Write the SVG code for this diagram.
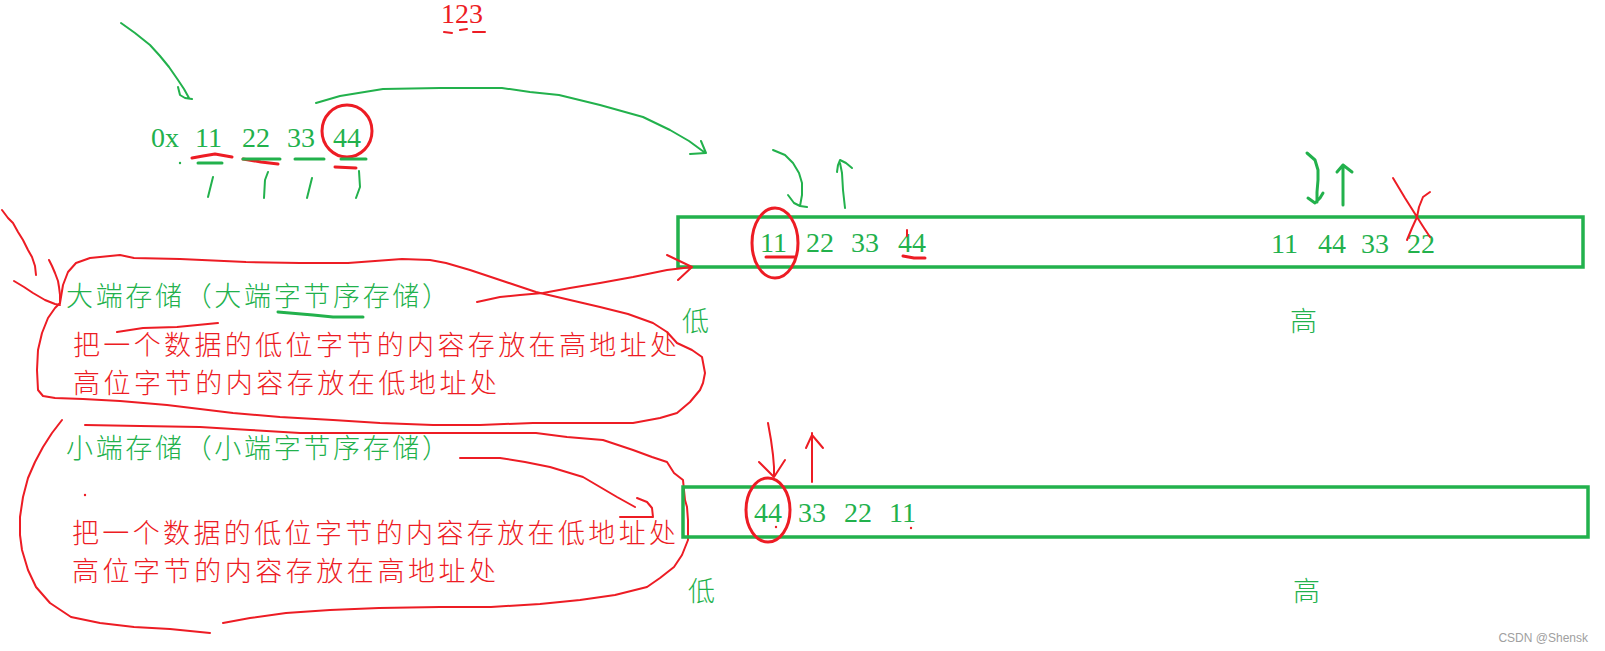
<svg xmlns="http://www.w3.org/2000/svg" width="1605" height="651" viewBox="0 0 1605 651">
<style>
.r{fill:none;stroke:#ed1c24;stroke-width:2;stroke-linecap:round;stroke-linejoin:round}
.rt{fill:none;stroke:#ed1c24;stroke-width:3;stroke-linecap:round;stroke-linejoin:round}
.g{fill:none;stroke:#22b14c;stroke-width:2;stroke-linecap:round;stroke-linejoin:round}
.gt{fill:none;stroke:#22b14c;stroke-width:3;stroke-linecap:round;stroke-linejoin:round}
.box{fill:none;stroke:#22b14c;stroke-width:3.5}
.num{font-family:"Liberation Serif","DejaVu Serif",serif;font-size:28px}
.cn{font-family:"Noto Sans CJK SC","Noto Sans",sans-serif;font-size:27px;font-weight:300}
.gf{fill:#22b14c}
.rf{fill:#ed1c24}
</style>
<rect width="1605" height="651" fill="#ffffff"/>

<g id="top-number">
<text class="num rf" x="441" y="23">123</text>
<path class="r" d="M444,32 L452,33 M460,30 L467,29 M473,32 L485,32"/>
<text class="num gf" x="151" y="147">0x</text>
<text class="num gf" x="195" y="147">11</text>
<text class="num gf" x="242" y="147">22</text>
<text class="num gf" x="287" y="147">33</text>
<text class="num gf" x="333" y="147">44</text>
<ellipse class="rt" cx="347" cy="131" rx="25" ry="26"/>
<path class="rt" d="M192,158 L203,156 L215,154 L232,157 M243,159 L261,162 L278,164 M335,167 L356,168"/>
<path class="gt" d="M198,163 L222,163 M243,159 L280,159 M295,159 L324,159 M341,159 L366,159"/>
<circle cx="180" cy="163" r="1.2" fill="#22b14c"/>
<path class="g" d="M213,177 L208,197 M268,172 L265,180 L264,198 M312,178 L307,198 M359,171 L360,187 L356,198"/>
</g>

<g id="big-endian">
<text class="cn gf" x="66" y="306" textLength="383" lengthAdjust="spacing">大端存储（大端字节序存储）</text>
<text class="cn rf" x="73" y="355" textLength="604" lengthAdjust="spacing">把一个数据的低位字节的内容存放在高地址处</text>
<text class="cn rf" x="73" y="393" textLength="424" lengthAdjust="spacing">高位字节的内容存放在低地址处</text>
<path class="gt" d="M278,312 L313,315 L333,317 L363,317"/>
<path class="r" d="M117,332 L143,328 L177,327 L218,323"/>
<path class="r" d="M60,303 L63,285 L68,272 L76,263 L90,258 L120,255 L134,258 L180,259 L246,262 L300,263 L348,263 L375,261 L402,259 L430,260 L446,263 L470,270 L491,277 L515,285 L536,292 L570,300 L600,307 L628,314 L653,323 L667,332 L677,343 L692,350 L702,357 L705,373 L703,383 L700,390 L690,402 L677,413 L660,418 L633,423 L580,423 L533,423 L480,425 L433,425 L380,423 L333,420 L280,417 L233,413 L200,409 L167,405 L120,401 L83,399 L55,398 L43,396 L38,390 L37,370 L38,350 L42,333 L48,318 L55,308 L60,303"/>
<path class="r" d="M2,210 L8,218 L13,223 L18,232 L23,240 L28,250 L32,257 L35,266 L36,275"/>
<path class="r" d="M14,281 L24,287 L33,293 L45,300 L55,304 L60,305"/>
<path class="r" d="M49,260 L52,266 L55,273 L58,281 L59,287 L60,295 L60,303"/>
</g>

<g id="little-endian">
<text class="cn gf" x="66" y="458" textLength="383" lengthAdjust="spacing">小端存储（小端字节序存储）</text>
<text class="cn rf" x="72" y="543" textLength="604" lengthAdjust="spacing">把一个数据的低位字节的内容存放在低地址处</text>
<text class="cn rf" x="72" y="581" textLength="424" lengthAdjust="spacing">高位字节的内容存放在高地址处</text>
<circle cx="85" cy="495" r="1.2" fill="#ed1c24"/>
<path class="r" d="M62,420 L52,433 L43,447 L35,462 L28,478 L23,497 L20,517 L20,535 L22,550 L28,570 L36,587 L50,603 L71,617 L100,623 L134,627 L170,629 L210,633"/>
<path class="r" d="M85,425 L140,426 L200,427 L250,430 L300,433 L350,433 L400,433 L446,433 L500,433 L536,433 L567,437 L603,440 L633,450 L652,457 L667,462 L674,473 L683,480 L685,500 L687,507 L688,520 L688,540 L682,555 L674,567 L660,578 L647,587 L615,595 L580,600 L540,604 L491,607 L440,607 L379,608 L330,610 L286,613 L250,618 L223,623"/>
</g>

<g id="big-memory">
<rect class="box" x="678" y="217" width="905" height="50"/>
<text class="num gf" x="760" y="252">11</text>
<text class="num gf" x="806" y="252">22</text>
<text class="num gf" x="851" y="252">33</text>
<text class="num gf" x="898" y="252">44</text>
<text class="num gf" x="1271" y="253">11</text>
<text class="num gf" x="1318" y="253">44</text>
<text class="num gf" x="1361" y="253">33</text>
<text class="num gf" x="1407" y="253">22</text>
<ellipse class="rt" cx="775" cy="243" rx="23" ry="35"/>
<path class="rt" d="M766,257 L795,257 M903,256 L914,258 L925,258"/>
<path class="r" d="M907,230 L907,236"/>
<path class="r" d="M1393,178 L1405,198 L1417,217 L1424,228 L1430,237 M1430,192 L1423,197 L1419,207 L1417,217 L1412,228 L1407,240"/>
<text class="cn gf" x="682" y="331">低</text>
<text class="cn gf" x="1290" y="331">高</text>
</g>

<g id="little-memory">
<rect class="box" x="683" y="487" width="905" height="50"/>
<text class="num gf" x="754" y="522">44</text>
<text class="num gf" x="798" y="522">33</text>
<text class="num gf" x="844" y="522">22</text>
<text class="num gf" x="889" y="522">11</text>
<ellipse class="rt" cx="768" cy="510" rx="22" ry="32"/>
<circle cx="776" cy="527" r="1.2" fill="#ed1c24"/>
<circle cx="911" cy="528" r="1.2" fill="#ed1c24"/>
<text class="cn gf" x="688" y="601">低</text>
<text class="cn gf" x="1293" y="601">高</text>
</g>

<g id="connectors">
<path class="g" d="M121,23 L135,33 L150,45 L160,56 L169,67 L178,80 L184,89 L189,98 M178,87 L180,95 L185,98 L192,99"/>
<path class="g" d="M316,103 L340,96 L383,89 L440,88 L502,88 L530,92 L559,95 L600,105 L643,117 L670,130 L689,141 L704,152 M690,154 L706,153 M701,141 L706,153"/>
<path class="r" d="M477,302 L500,297 L520,295 L543,293 L570,288 L600,283 L633,277 L667,270 L692,267 M667,255 L692,267 L678,280"/>
<path class="r" d="M460,458 L480,458 L500,458 L525,462 L550,467 L583,477 L600,487 L617,497 L635,507 M637,498 L647,502 L652,508 L653,517 M620,517 L653,517"/>
<path class="g" d="M773,150 L785,155 L793,163 L799,173 L802,183 L802,195 L800,206 M788,195 L794,203 L800,206 L807,207"/>
<path class="g" d="M845,208 L843,190 L842,173 L840,163 M837,172 L838,165 L840,160 L846,163 L852,168"/>
<path class="gt" d="M1307,153 L1315,160 L1318,170 L1318,180 L1317,192 L1317,202 M1308,198 L1315,203 L1320,198 L1323,193"/>
<path class="gt" d="M1343,205 L1343,165 M1337,172 L1343,165 L1352,172"/>
<path class="r" d="M768,423 L771,440 L773,455 L774,467 L774,477 M759,462 L774,477 L785,460"/>
<path class="r" d="M812,482 L812,433 M806,448 L812,435 L823,448"/>
</g>

<text x="1588" y="642" text-anchor="end" font-family="Liberation Sans, Arial, sans-serif" font-size="12" fill="#a0a0a0">CSDN @Shensk</text>
</svg>
